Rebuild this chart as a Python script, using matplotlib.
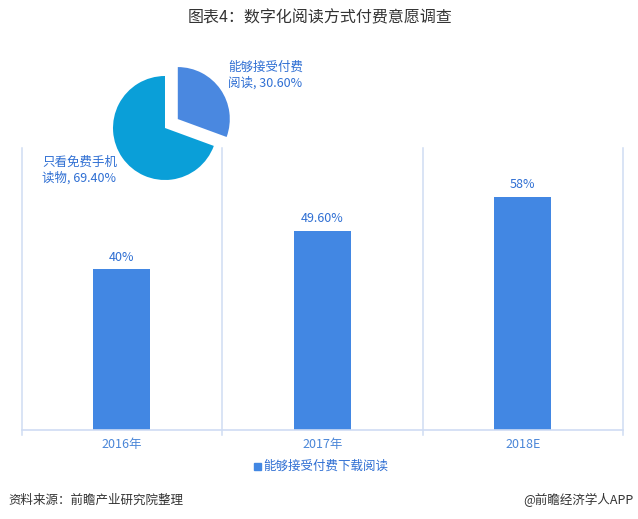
import matplotlib
matplotlib.use("Agg")
import matplotlib.pyplot as plt

plt.rcParams['font.family'] = ['Noto Sans CJK SC', 'DejaVu Sans']

categories = ["2016年", "2017年", "2018E"]
values = [40, 49.6, 58]
value_labels = ["40%", "49.60%", "58%"]
legend_label = "能够接受付费下载阅读"

pie_labels = ["能够接受付费\n阅读, 30.60%", "只看免费手机\n读物, 69.40%"]
pie_values = [30.6, 69.4]

title = "图表4：数字化阅读方式付费意愿调查"
source = "资料来源：前瞻产业研究院整理"
brand = "@前瞻经济学人APP"

W, H = 638, 519
fig = plt.figure(figsize=(W/100, H/100), dpi=100)

bar_color = "#4287e3"
grid_color = "#cfdcf3"
label_color = "#2f6fd3"

# main bar axes
x0, x1 = 21.5, 623
y_base, y_top = 430, 28
ax = fig.add_axes([x0/W, (H-y_base)/H, (x1-x0)/W, (y_base-y_top)/H])
xs = list(range(len(categories)))
ax.bar(xs, values, width=0.284, color=bar_color, zorder=2)
ax.set_xlim(-0.5, len(categories)-0.5)
ax.set_ylim(0, 100)
for s in ["top", "right", "left"]:
    ax.spines[s].set_visible(False)
ax.spines["bottom"].set_color(grid_color)
ax.spines["bottom"].set_linewidth(1.2)
ax.set_yticks([])
ax.set_xticks(xs)
ax.set_xticklabels(categories, color="#4a86d8", fontsize=9)
ax.tick_params(axis='x', length=0, pad=6)
line_top = 100*(y_base-148)/(y_base-y_top)
for b in [-0.5, 0.5, 1.5, 2.5]:
    ax.plot([b, b], [-1.2, line_top], color=grid_color,
            lw=1.1, clip_on=False, zorder=1)
for xi, v, t in zip(xs, values, value_labels):
    ax.text(xi, v + 1.4, t, ha='center', va='bottom', color=label_color, fontsize=9)

# legend
fig.patches.append(plt.Rectangle((254/W, (H-470)/H), 7/W, 7/H, color=bar_color,
                                 transform=fig.transFigure, figure=fig))
fig.text(263/W, (H-466)/H, legend_label, color=label_color, fontsize=9, va='center', ha='left')

# pie inset
cx, cy, r = 165, 128, 52
span = 3.0
side = r * span
pax = fig.add_axes([(cx-side/2)/W, (H-cy-side/2)/H, side/W, side/H])
pax.pie(pie_values, colors=["#4a88e0", "#0a9fd8"], startangle=90, counterclock=False,
        explode=[0.3, 0], radius=1, wedgeprops=dict(linewidth=0))
pax.set_xlim(-1.5, 1.5)
pax.set_ylim(-1.5, 1.5)
pax.set_aspect('equal')
pax.axis('off')

fig.text(228/W, (H-75)/H, pie_labels[0], color=label_color, fontsize=9,
         ha='left', va='center', linespacing=1.2)
fig.text(42/W, (H-170)/H, pie_labels[1], color=label_color, fontsize=9,
         ha='left', va='center', linespacing=1.2)

fig.text(320/W, (H-18)/H, title, color="#333333", fontsize=11.5, ha='center', va='center')
fig.text(8/W, (H-500)/H, source, color="#333333", fontsize=9, ha='left', va='center',
         style='italic')
fig.text(634/W, (H-500)/H, brand, color="#333333", fontsize=9, ha='right', va='center')

fig.savefig("out.png", dpi=100)
